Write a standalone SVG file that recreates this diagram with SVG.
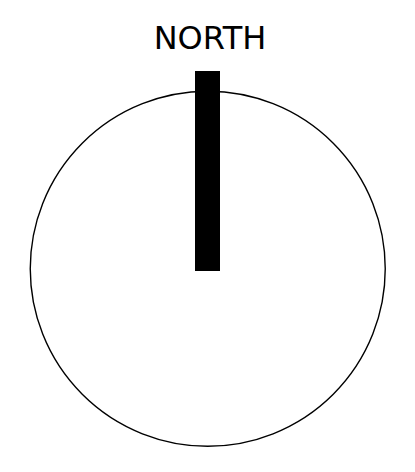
<svg xmlns="http://www.w3.org/2000/svg" width="415" height="472" viewBox="0 0 415 472">
<style>
.ring{fill:#fff;stroke:#000;stroke-width:1.4}
.needle{fill:#000}
.lbl{font-family:"DejaVu Sans",sans-serif;font-size:32px;fill:#000;text-anchor:middle}
</style>
<rect width="415" height="472" fill="#fff"/>
<g id="dial"><circle class="ring" cx="207.75" cy="268.75" r="177.5"/></g>
<g id="needle"><rect class="needle" x="195" y="71" width="25" height="200"/></g>
<g id="label"><text class="lbl" x="210" y="49">NORTH</text></g>
</svg>
